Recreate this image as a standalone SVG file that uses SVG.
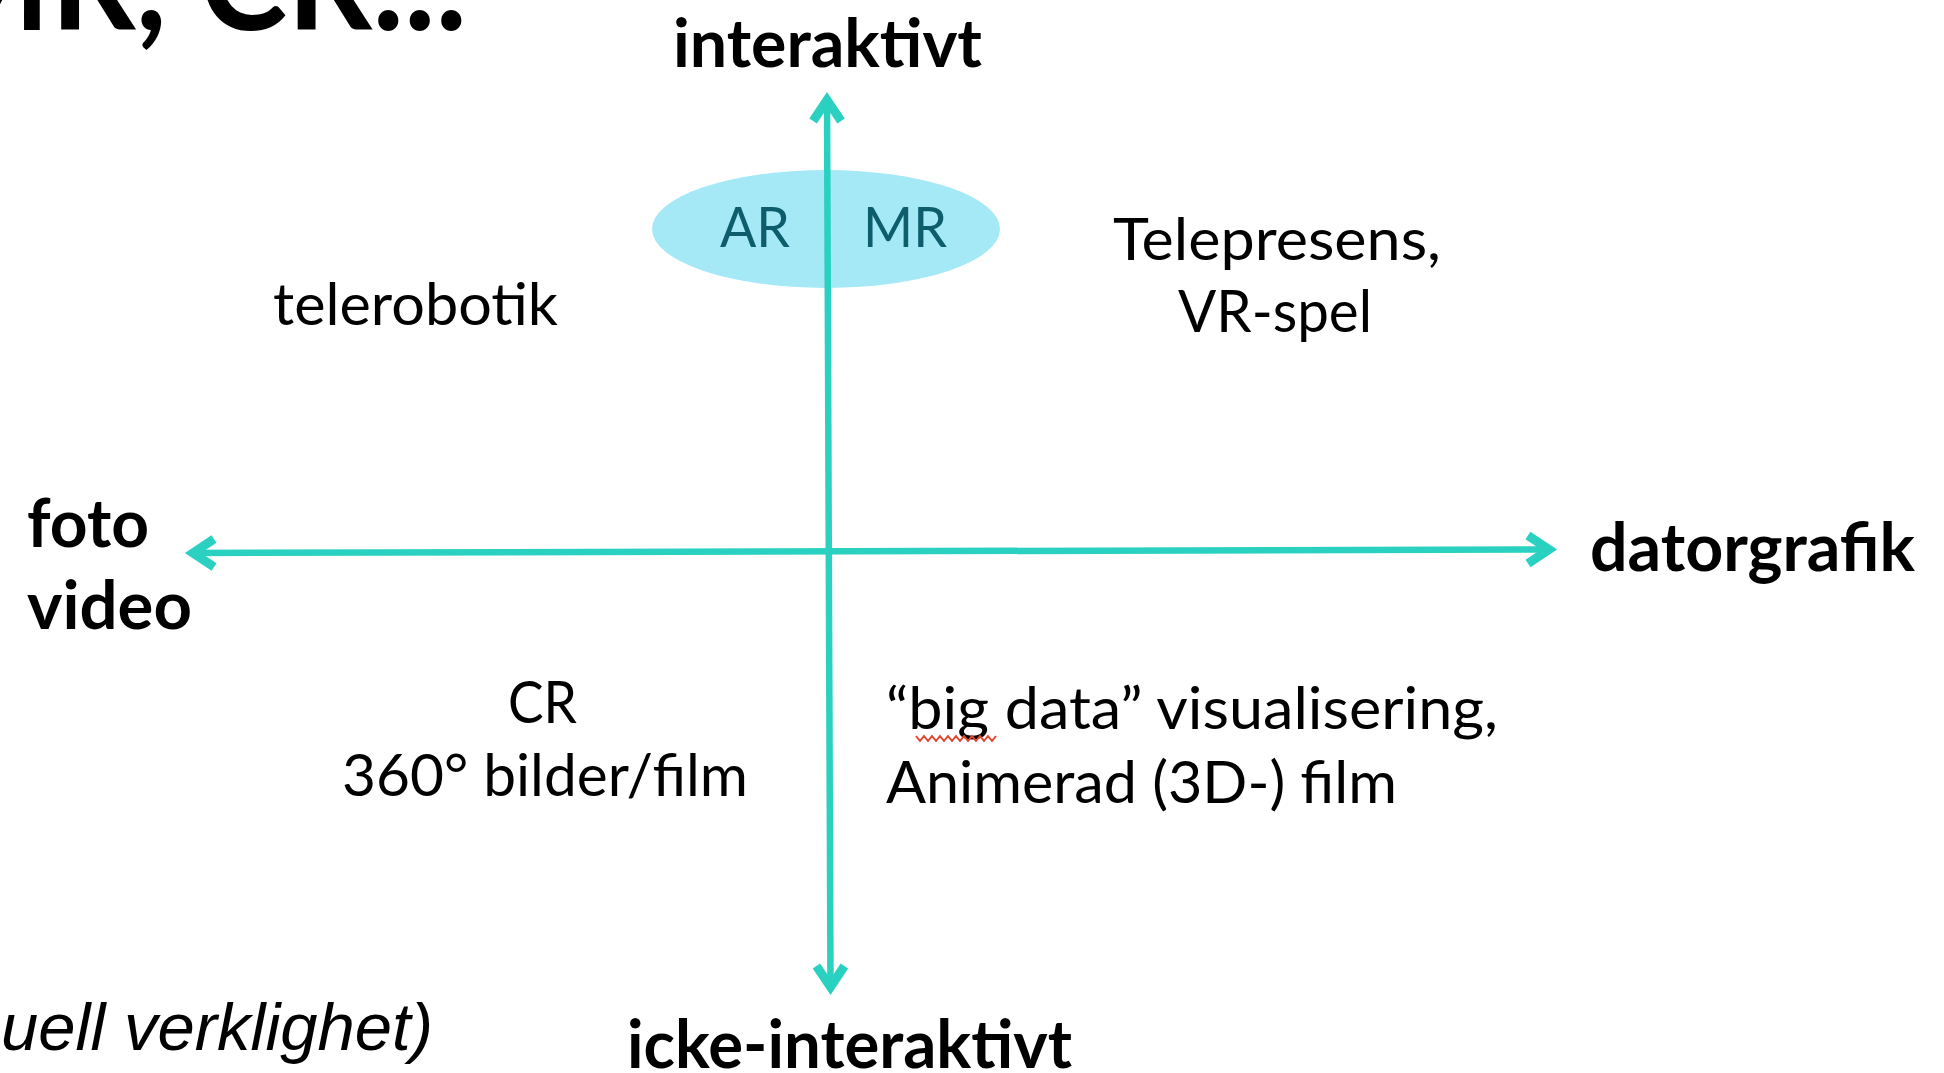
<svg xmlns="http://www.w3.org/2000/svg" width="1944" height="1073" viewBox="0 0 1944 1073">
  <style>
    .bold { font-family: Lato, "Open Sans", "Liberation Sans", sans-serif; font-weight: 700; fill: #000; }
    .reg { font-family: Lato, "Open Sans", "Liberation Sans", sans-serif; font-weight: 400; fill: #000; font-size: 58px; }
    .axislbl { font-size: 66px; }
    .inner { font-family: Lato, "Open Sans", "Liberation Sans", sans-serif; font-size: 57px; fill: #0d5d6c; }
    .axis { stroke: #2ad1c0; stroke-width: 6.5; fill: none; }
  </style>
  <defs>
    <marker id="arrow" markerUnits="userSpaceOnUse" viewBox="-40 -25 50 50" markerWidth="50" markerHeight="50" refX="0" refY="0" orient="auto-start-reverse">
      <path d="M -24 -14 L -3 0 L -24 14" fill="none" stroke="#2ad1c0" stroke-width="9" stroke-linejoin="miter" stroke-miterlimit="10"/>
    </marker>
  </defs>
  <rect width="1944" height="1073" fill="#ffffff"/>

  <g id="title">
    <text class="bold" x="-75" y="30" font-size="140" textLength="542" lengthAdjust="spacingAndGlyphs">MR, CR...</text>
  </g>

  <g id="node-ar-mr">
    <ellipse cx="826" cy="229" rx="174" ry="59" fill="#a4e9f5"/>
    <text class="inner" x="720" y="247" textLength="70" lengthAdjust="spacingAndGlyphs">AR</text>
    <text class="inner" x="863" y="247" textLength="84" lengthAdjust="spacingAndGlyphs">MR</text>
  </g>

  <g id="connectors">
    <line class="axis" x1="827" y1="97" x2="830.5" y2="990" marker-start="url(#arrow)" marker-end="url(#arrow)"/>
    <line class="axis" x1="190" y1="553" x2="1552" y2="549.5" marker-start="url(#arrow)" marker-end="url(#arrow)"/>
  </g>

  <g id="label-interaktivt">
    <text class="bold axislbl" x="673" y="67" textLength="309" lengthAdjust="spacingAndGlyphs">interaktivt</text>
  </g>
  <g id="label-icke-interaktivt">
    <text class="bold axislbl" x="627" y="1068" textLength="445" lengthAdjust="spacingAndGlyphs">icke-interaktivt</text>
  </g>
  <g id="label-foto-video">
    <text class="bold axislbl" x="27" y="547" textLength="122" lengthAdjust="spacingAndGlyphs">foto</text>
    <text class="bold axislbl" x="27" y="629" textLength="165" lengthAdjust="spacingAndGlyphs">video</text>
  </g>
  <g id="label-datorgrafik">
    <text class="bold axislbl" x="1590" y="571" textLength="325" lengthAdjust="spacingAndGlyphs">datorgrafik</text>
  </g>

  <g id="node-telerobotik">
    <text class="reg" x="273" y="325" textLength="285" lengthAdjust="spacingAndGlyphs">telerobotik</text>
  </g>
  <g id="node-telepresens">
    <text class="reg" x="1113" y="260" textLength="328" lengthAdjust="spacingAndGlyphs">Telepresens,</text>
    <text class="reg" x="1178" y="332" textLength="194" lengthAdjust="spacingAndGlyphs">VR-spel</text>
  </g>
  <g id="node-cr">
    <text class="reg" x="508" y="723" textLength="69" lengthAdjust="spacingAndGlyphs">CR</text>
    <text class="reg" x="342" y="796" textLength="406" lengthAdjust="spacingAndGlyphs">360° bilder/film</text>
  </g>
  <g id="node-bigdata">
    <text class="reg" x="886" y="729" textLength="612" lengthAdjust="spacingAndGlyphs">“big data” visualisering,</text>
    <text class="reg" x="886" y="803" textLength="511" lengthAdjust="spacingAndGlyphs">Animerad (3D-) film</text>
    <path d="M 916 736 l 4 5 l 4 -5 l 4 5 l 4 -5 l 4 5 l 4 -5 l 4 5 l 4 -5 l 4 5 l 4 -5 l 4 5 l 4 -5 l 4 5 l 4 -5 l 4 5 l 4 -5 l 4 5 l 4 -5 l 4 5 l 4 -5" fill="none" stroke="#e5462f" stroke-width="2"/>
  </g>

  <g id="footnote">
    <text x="433" y="1050" font-family="'Liberation Sans', Arial, sans-serif" font-style="italic" font-size="67" text-anchor="end" fill="#000">uell verklighet)</text>
  </g>
</svg>
